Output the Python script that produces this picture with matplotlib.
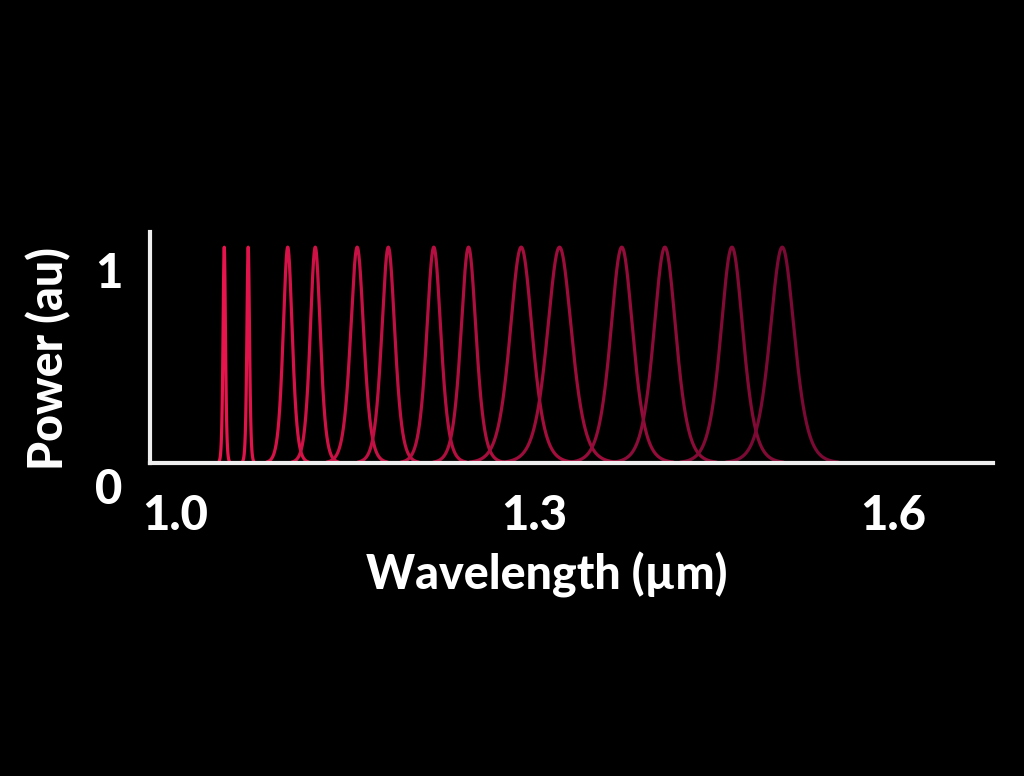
import numpy as np
import matplotlib.pyplot as plt
from matplotlib.colors import to_rgb
from matplotlib.transforms import ScaledTranslation

# peak centre wavelengths (um), full widths at half maximum (um), heights
centres = [1.041, 1.061, 1.094, 1.117, 1.152, 1.178, 1.216, 1.245,
           1.289, 1.321, 1.373, 1.409, 1.465, 1.507]
fwhm = [0.0024, 0.0026, 0.009, 0.010, 0.013, 0.013, 0.014, 0.015,
        0.022, 0.024, 0.022, 0.022, 0.022, 0.024]
heights = [1.0] * 14

x_ticks = [1.0, 1.3, 1.6]
x_tick_labels = ['1.0', '1.3', '1.6']
y_ticks = [0, 1]
y_tick_labels = ['0', '1']

c_first = np.array(to_rgb('#e8144c'))
c_last = np.array(to_rgb('#7a0a34'))

plt.rcParams['font.family'] = ['Lato', 'DejaVu Sans']
plt.rcParams['font.weight'] = 'black'
plt.rcParams['axes.labelweight'] = 'black'

fig = plt.figure(figsize=(10.24, 7.76), dpi=100, facecolor='black')
ax = fig.add_axes([0.1465, 0.4034, 0.8232, 0.2976], facecolor='black')

wl = np.linspace(0.98, 1.68, 6000)
n = len(centres)
for i, (c, w, h) in enumerate(zip(centres, fwhm, heights)):
    t = w / 1.7627
    y = h / np.cosh((wl - c) / t) ** 2
    m = y > 0.004
    col = c_first + (c_last - c_first) * i / (n - 1)
    ax.plot(wl[m], y[m], color=col, lw=2.3, solid_capstyle='round')

ax.set_xlim(0.979, 1.683)
ax.set_ylim(0, 1.07)

for s in ['top', 'right']:
    ax.spines[s].set_visible(False)
for s in ['left', 'bottom']:
    ax.spines[s].set_color('#eeeeee')
    ax.spines[s].set_linewidth(3)

ax.set_xticks(x_ticks)
ax.set_xticklabels(x_tick_labels, fontweight='black')
ax.set_yticks(y_ticks)
ax.set_yticklabels(y_tick_labels, fontweight='black')
ax.tick_params(length=0, colors='white', labelsize=34)
ax.tick_params(axis='x', pad=22)
ax.tick_params(axis='y', pad=20)
for lab in ax.get_yticklabels():
    lab.set_transform(lab.get_transform() + ScaledTranslation(0, -0.23, fig.dpi_scale_trans))

ax.set_xlabel('Wavelength (µm)', color='white', fontsize=33.5, fontweight='black', va='center')
ax.xaxis.set_label_coords(0.471, -0.485)
ax.set_ylabel('Power (au)', color='white', fontsize=33.5, fontweight='black', va='center')
ax.yaxis.set_label_coords(-0.12, 0.45)

fig.savefig('out.png', dpi=100, facecolor='black')
